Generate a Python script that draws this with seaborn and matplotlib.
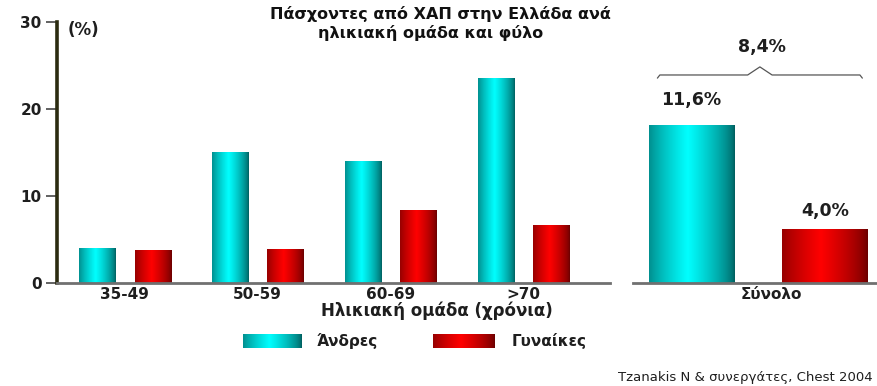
import numpy as np
import pandas as pd
import matplotlib
matplotlib.use("Agg")
import matplotlib.pyplot as plt
import seaborn as sns

# Prevalence of COPD in Greece by age group and sex (%)
age_groups = ["35-49", "50-59", "60-69", ">70"]
men_by_age = [4.0, 15.1, 14.0, 23.6]
women_by_age = [3.8, 3.9, 8.4, 6.7]

total_label = "Σύνολο"
men_total = 11.6
women_total = 4.0
overall_total = 8.4

sex_labels = ["Άνδρες", "Γυναίκες"]
y_ticks = [0, 10, 20, 30]

title_lines = ["Πάσχοντες από ΧΑΠ στην Ελλάδα ανά", "ηλικιακή ομάδα και φύλο"]
x_title = "Ηλικιακή ομάδα (χρόνια)"
source_note = "Tzanakis N & συνεργάτες, Chest 2004"

by_age = pd.DataFrame({
    "age": age_groups * 2,
    "value": men_by_age + women_by_age,
    "sex": [sex_labels[0]] * len(age_groups) + [sex_labels[1]] * len(age_groups),
})
overall = pd.DataFrame({
    "age": [total_label, total_label],
    "value": [men_total, women_total],
    "sex": sex_labels,
})

sns.set_theme(style="white")
plt.rcParams["font.family"] = ["DejaVu Sans"]

CYAN_DARK = np.array([0.0, 0.38, 0.38])
CYAN_LIGHT = np.array([0.0, 1.0, 1.0])
RED_DARK = np.array([0.42, 0.0, 0.0])
RED_LIGHT = np.array([1.0, 0.0, 0.0])
shades = {sex_labels[0]: (CYAN_DARK, CYAN_LIGHT), sex_labels[1]: (RED_DARK, RED_LIGHT)}
palette = {sex_labels[0]: "#00d8d8", sex_labels[1]: "#e00000"}
INK = "#1e1e1e"


def cylinder(dark, light, n=64):
    t = np.linspace(0, 1, n)
    k = np.clip(1 - np.abs(t - 0.45) / 0.55, 0, 1) ** 0.7
    rgb = dark[None, :] * (1 - k[:, None]) + light[None, :] * k[:, None]
    return rgb[None, :, :]


def shade_bars(ax):
    for container, sex in zip(ax.containers, sex_labels):
        dark, light = shades[sex]
        img = cylinder(dark, light)
        for patch in container.patches:
            x0, y0 = patch.get_x(), patch.get_y()
            w, h = patch.get_width(), patch.get_height()
            im = ax.imshow(img, extent=(x0, x0 + w, y0, y0 + h), aspect="auto",
                           interpolation="bilinear", zorder=patch.get_zorder() + 0.1)
            im.set_clip_path(patch)


fig = plt.figure(figsize=(8.77, 3.86), dpi=100)
fig.patch.set_facecolor("white")

# Left panel: by age group
ax = fig.add_axes([57 / 877, 1 - 283 / 386, (610 - 57) / 877, 261 / 386])
sns.barplot(data=by_age, x="age", y="value", hue="sex", palette=palette,
            width=0.84, gap=0.35, ax=ax, legend=False, saturation=1, linewidth=0)
shade_bars(ax)
ax.set_xlim(-0.51, 3.65)
ax.set_ylim(0, 30)
ax.set_yticks(y_ticks)
ax.set_xlabel("")
ax.set_ylabel("")
for s in ["top", "right"]:
    ax.spines[s].set_visible(False)
ax.spines["left"].set_color("#2b2b10")
ax.spines["left"].set_linewidth(2.6)
ax.spines["bottom"].set_color("#707070")
ax.spines["bottom"].set_linewidth(2.0)
ax.tick_params(axis="y", which="both", left=True, length=8, width=1.3, color="#555555",
               labelsize=11, pad=3)
ax.tick_params(axis="x", length=0, labelsize=11, pad=3)
for lab in ax.get_yticklabels() + ax.get_xticklabels():
    lab.set_fontweight("bold")
    lab.set_color(INK)
ax.set_facecolor("white")

# Right panel: totals
ax2 = fig.add_axes([633 / 877, 1 - 283 / 386, (877 - 633) / 877, 261 / 386])
sns.barplot(data=overall, x="age", y="value", hue="sex", palette=palette,
            width=1.66, gap=0.36, ax=ax2, legend=False, saturation=1, linewidth=0)
shade_bars(ax2)
ax2.set_xlim(-0.78, 0.74)
ax2.set_ylim(0, 261 / 13.6)
ax2.set_yticks([])
ax2.set_xticks([0.08], [total_label])
ax2.set_xlabel("")
ax2.set_ylabel("")
for s in ["top", "right", "left"]:
    ax2.spines[s].set_visible(False)
ax2.spines["bottom"].set_color("#707070")
ax2.spines["bottom"].set_linewidth(2.0)
ax2.tick_params(axis="x", length=0, labelsize=11, pad=3)
for lab in ax2.get_xticklabels():
    lab.set_fontweight("bold")
    lab.set_color(INK)
ax2.set_facecolor("white")

for container, pad in zip(ax2.containers, [12, 6]):
    ax2.bar_label(container,
                  labels=[f"{v:.1f}%".replace(".", ",") for v in container.datavalues],
                  padding=pad, fontsize=12.5, fontweight="bold", color=INK)

# Brace spanning both totals
bx = [0.10, 0.11, 0.47, 0.52, 0.57, 0.93, 0.94]
by = [0.785, 0.797, 0.797, 0.828, 0.797, 0.797, 0.785]
ax2.plot(bx, by, transform=ax2.transAxes, color="#555555", lw=0.9, clip_on=False)
ax2.text(0.53, 0.905, f"{overall_total:.1f}%".replace(".", ","), transform=ax2.transAxes,
         ha="center", va="center", fontsize=12.5, fontweight="bold", color=INK)

# Titles and annotations
fig.text(440 / 877, 1 - 14 / 386, title_lines[0], ha="center", va="center",
         fontsize=11.5, fontweight="bold", color="#111111")
fig.text(431 / 877, 1 - 33 / 386, title_lines[1], ha="center", va="center",
         fontsize=11.5, fontweight="bold", color="#111111")
fig.text(68 / 877, 1 - 30 / 386, "(%)", ha="left", va="center",
         fontsize=12, fontweight="bold", color=INK)
fig.text(437 / 877, 1 - 311 / 386, x_title, ha="center", va="center",
         fontsize=12, fontweight="bold", color=INK)

# Legend with shaded swatches
legend_items = [(243, 302, 317, sex_labels[0]), (433, 495, 512, sex_labels[1])]
for (x0, x1, tx, sex) in legend_items:
    dark, light = shades[sex]
    lax = fig.add_axes([x0 / 877, 1 - 348 / 386, (x1 - x0) / 877, 14 / 386])
    lax.imshow(cylinder(dark, light), aspect="auto", interpolation="bilinear")
    lax.set_axis_off()
    fig.text(tx / 877, 1 - 341 / 386, sex, ha="left", va="center",
             fontsize=11, fontweight="bold", color=INK)

fig.text(873 / 877, 1 - 378 / 386, source_note, ha="right", va="center",
         fontsize=9.5, color=INK)

fig.savefig("out.png", dpi=100, facecolor="white")
